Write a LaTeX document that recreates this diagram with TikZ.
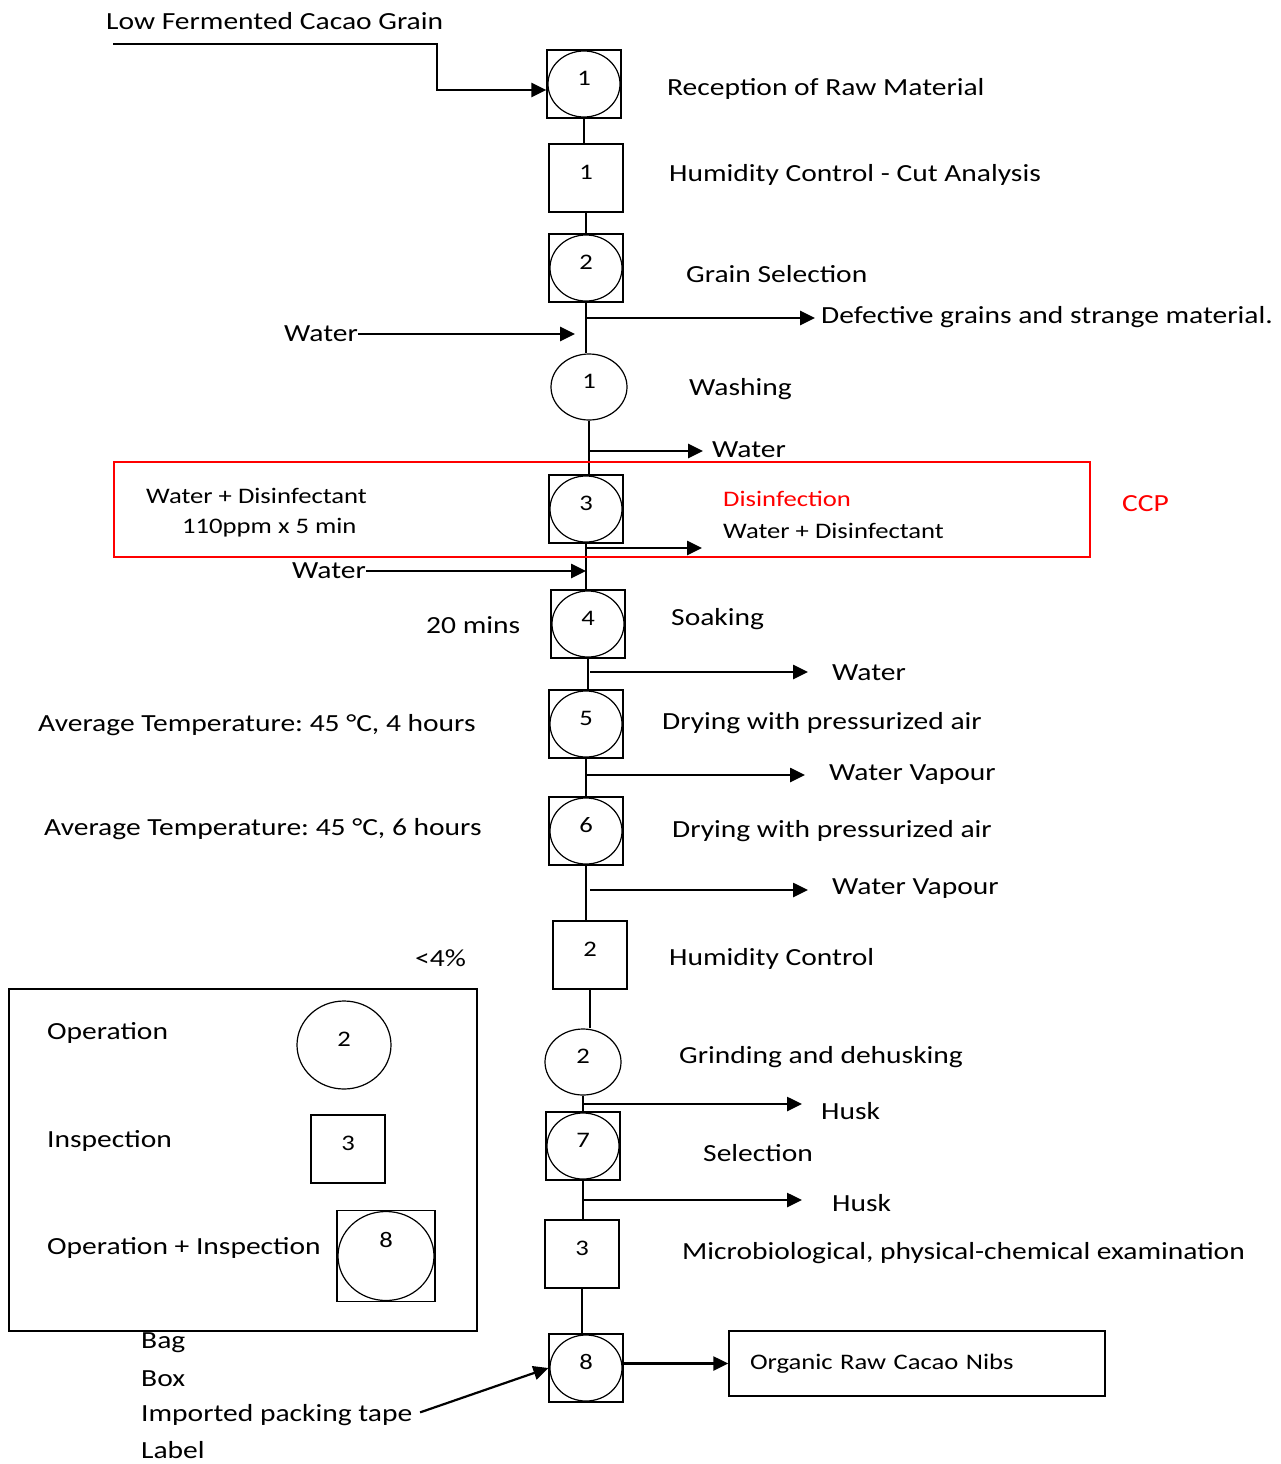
\documentclass[tikz,border=0pt]{standalone}
\usepackage{fontspec}
\setmainfont{Carlito}[FakeStretch=1.2]
\usetikzlibrary{arrows.meta,shapes.geometric,calc}
\frenchspacing
\newcommand{\flowtext}{\fontsize{24.6}{29}\selectfont}
\newcommand{\flowsmall}{\fontsize{22.2}{26}\selectfont}
\tikzset{
  num/.style={inner sep=0pt, text height=15pt, text depth=13pt, font=\flowsmall},
  oper/.style={ellipse, draw, line width=1.2pt, minimum width=76pt, minimum height=66pt, num},
  insp/.style={rectangle, draw, line width=1.2pt, minimum width=74pt, minimum height=68pt, num},
  opinsp/.style={insp, path picture={\draw[line width=1.2pt] let \p1=(path picture bounding box.north east), \p2=(path picture bounding box.center) in (\p2) ellipse ({\x1-\x2-1pt} and {\y1-\y2-1pt});}},
  flow/.style={line width=1.3pt},
  outarrow/.style={->, line width=2.6pt},
  lbl/.style={anchor=west, inner sep=0pt, font=\flowtext},
  sml/.style={anchor=west, inner sep=0pt, font=\flowsmall},
}
\begin{document}
\begin{tikzpicture}[>={Triangle[length=15pt,width=14pt]}, x=1pt, y=-1pt]
\useasboundingbox (0,0) rectangle (1280,1464);
% process column
\node[opinsp] (rec) at (584,84) {1};
\node[insp] (hum1) at (586,178) {1};
\node[opinsp] (gsel) at (586,268) {2};
\node[oper] (wash) at (589,387) {1};
\node[opinsp] (dis) at (586,509) {3};
\node[opinsp] (soak) at (588,624) {4};
\node[opinsp] (dry1) at (586,724) {5};
\node[opinsp] (dry2) at (586,831) {6};
\node[insp] (hum2) at (590,955) {2};
\node[oper] (grind) at (583,1062) {2};
\node[opinsp] (sel) at (583,1146) {7};
\node[insp] (micro) at (582,1254) {3};
\node[opinsp] (pack) at (586,1368) {8};
\foreach \a/\b in {rec/hum1,hum1/gsel,gsel/wash,wash/dis,dis/soak,soak/dry1,dry1/dry2,dry2/hum2,hum2/grind,grind/sel,sel/micro,micro/pack}
  \draw[flow] (\a.south) -- (\a.south |- \b.north);

% step names
\node[lbl] at (667,89) {Reception of Raw Material};
\node[lbl] at (669,175) {Humidity Control - Cut Analysis};
\node[lbl] at (686,274) {Grain Selection};
\node[lbl] at (689,389) {Washing};
\node[sml, text=red] at (723,499) {Disinfection};
\node[sml] at (723,531) {Water + Disinfectant};
\node[lbl] at (671,619) {Soaking};
\node[lbl] at (662,723) {Drying with pressurized air};
\node[lbl] at (672,831) {Drying with pressurized air};
\node[lbl] at (669,959) {Humidity Control};
\node[lbl] at (679,1057) {Grinding and dehusking};
\node[lbl] at (703,1153) {Selection};
\node[lbl] at (682,1253) {Microbiological, physical-chemical examination};

% input
\node[lbl] (raw) at (106,21) {Low Fermented Cacao Grain};
\coordinate (feed) at (113,44);
\coordinate (bend) at (437,90);
\draw[outarrow] (feed) -| (bend) -- (bend -| rec.west);

% side streams
\coordinate (gselout) at (586,318);
\node[lbl] (defect) at (821,317) {Defective grains and strange material.};
\draw[outarrow, shorten >=6pt] (gselout) -- (defect.west |- gselout);
\node[lbl, anchor=east] (win1) at (358,334) {Water};
\coordinate (win1end) at (575,334);
\draw[outarrow] (win1.east) -- (win1end);
\coordinate (washout) at (589,451);
\node[lbl] (wout) at (712,450) {Water};
\draw[outarrow, shorten >=9pt] (washout) -- (wout.west |- washout);
\coordinate (disout) at (586,548);
\coordinate (disend) at (702,548);
\draw[outarrow] (disout) -- (disend);
\node[lbl, anchor=east] (win2) at (366,571) {Water};
\coordinate (win2end) at (586,571);
\draw[outarrow] (win2.east) -- (win2end);
\node[lbl] at (426,625) {20 mins};
\coordinate (soakout) at (590,672);
\node[lbl] (sout) at (832,673) {Water};
\draw[outarrow, shorten >=24pt] (soakout) -- (sout.west |- soakout);
\node[lbl] at (38,725) {Average Temperature: 45 °C, 4 hours};
\coordinate (dry1out) at (586,775);
\node[lbl] (vap1) at (829,775) {Water Vapour};
\draw[outarrow, shorten >=24pt] (dry1out) -- (vap1.west |- dry1out);
\node[lbl] at (44,829) {Average Temperature: 45 °C, 6 hours};
\coordinate (dry2out) at (590,890);
\node[lbl] (vap2) at (832,889) {Water Vapour};
\draw[outarrow, shorten >=24pt] (dry2out) -- (vap2.west |- dry2out);
\node[lbl] at (415,958) {<4\%};
\coordinate (grindout) at (583,1104);
\node[lbl] (husk1) at (821,1111) {Husk};
\draw[outarrow, shorten >=19pt] (grindout) -- (husk1.west |- grindout);
\coordinate (selout) at (583,1200);
\node[lbl] (husk2) at (832,1203) {Husk};
\draw[outarrow, shorten >=30pt] (selout) -- (husk2.west |- selout);

% CCP
\draw[red, line width=1.4pt] (114,462) rectangle (1090,557);
\node[sml] at (146,496) {Water + Disinfectant};
\node[sml] at (182,528) {110ppm x 5 min};
\node[lbl, text=red] at (1122,504) {CCP};

% legend
\draw[line width=1.5pt] (9,989) rectangle (477,1331);
\node[lbl] at (47,1033) {Operation};
\node[oper, minimum width=94pt, minimum height=88pt] (legop) at (344,1045) {2};
\node[lbl] at (47,1141) {Inspection};
\node[insp] (legin) at (348,1149) {3};
\node[lbl] at (47,1248) {Operation + Inspection};
\node[opinsp, minimum width=98pt, minimum height=91pt, text depth=32pt] (legoi) at (386,1256) {8};

% packing
\node[lbl] at (141,1343) {Bag};
\node[lbl] at (141,1379) {Box};
\node[lbl] (tape) at (141,1415) {Imported packing tape};
\node[lbl] at (141,1450) {Label};
\draw[->, line width=2.2pt, shorten <=8pt] (tape.east) -- (pack.west);
\node[draw, line width=1.5pt, minimum width=376pt, minimum height=65pt, inner xsep=21pt, text width=334pt, align=left, font=\flowsmall] (nibs) at (917,1363.5) {Organic Raw Cacao Nibs};
\draw[outarrow] (nibs.west -| pack.east) -- (nibs.west);

\end{tikzpicture}
\end{document}
